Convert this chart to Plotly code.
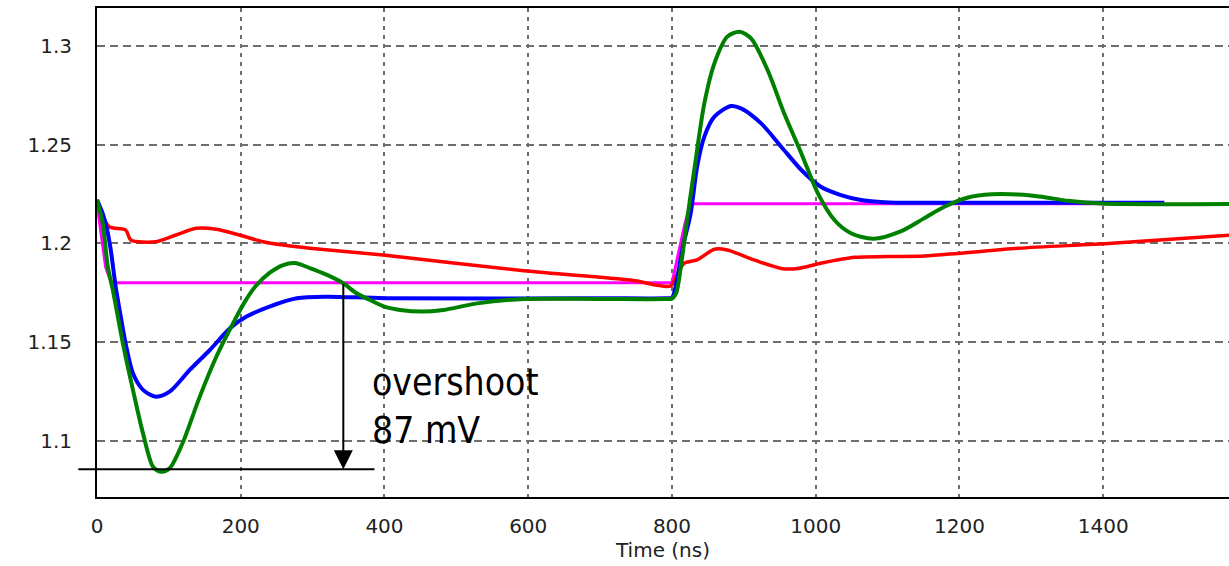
import plotly.graph_objects as go

# ---- data (time in ns, voltage in V) ----
red_t = [0, 5, 17, 40, 47, 82, 110, 138, 166, 198, 231, 259, 296, 398, 594, 742, 798,
         806, 817, 835, 859, 877, 914, 952, 975, 1007, 1054, 1100, 1151, 1198, 1282, 1412, 1578]
red_v = [1.221, 1.216, 1.2084, 1.2067, 1.2017, 1.2008, 1.2042, 1.2076, 1.2071, 1.2042, 1.2008,
         1.1991, 1.1975, 1.1941, 1.1861, 1.1814, 1.1784,
         1.1835, 1.1899, 1.1916, 1.197, 1.1966, 1.1916, 1.1873, 1.1873, 1.1899, 1.1929, 1.1933,
         1.1936, 1.1949, 1.1975, 1.2, 1.2042]

blue_t = [0, 8, 14, 19, 26, 33, 40, 50, 64, 82, 101, 129, 157, 185, 208, 240, 278, 320, 400,
          700, 790, 800, 806, 815, 826, 835, 845, 859, 882, 896, 924, 952, 980, 1007, 1035,
          1063, 1090, 1120, 1485]
blue_v = [1.222, 1.215, 1.207, 1.197, 1.178, 1.163, 1.149, 1.1342, 1.1258, 1.1224, 1.1249,
          1.1359, 1.146, 1.157, 1.1629, 1.168, 1.1722, 1.173, 1.1722,
          1.1722, 1.1722, 1.1725, 1.180, 1.198, 1.2152, 1.2388, 1.254, 1.2641, 1.2695, 1.2683,
          1.2607, 1.2489, 1.2371, 1.2286, 1.2244, 1.2219, 1.2209, 1.2205, 1.2205]

green_t = [0, 8, 15, 22, 36, 50, 64, 78, 89, 101, 119, 143, 166, 190, 205, 220, 240, 259, 275,
           296, 320, 343, 360, 380, 400, 422, 452, 482, 529, 594, 700, 790, 800, 806, 813, 821,
           831, 845, 859, 877, 894, 910, 933, 956, 980, 1003, 1026, 1049, 1080, 1119, 1150,
           1179, 1212, 1245, 1282, 1314, 1351, 1398, 1578]
green_v = [1.222, 1.2101, 1.1882, 1.1764, 1.1494, 1.1258, 1.1038, 1.0869, 1.0844, 1.0861,
           1.0988, 1.1224, 1.1426, 1.1600, 1.170, 1.178, 1.185, 1.189, 1.190, 1.1875, 1.184,
           1.1797, 1.175, 1.1713, 1.168, 1.1663, 1.1655, 1.1663, 1.1696, 1.1718, 1.1718,
           1.1718, 1.172, 1.175, 1.19, 1.2118, 1.2371, 1.2708, 1.2911, 1.3046, 1.3071, 1.3037,
           1.2877, 1.2658, 1.2455, 1.2253, 1.2118, 1.2051, 1.2023, 1.2062, 1.2125, 1.2185,
           1.2232, 1.2248, 1.2247, 1.2236, 1.2215, 1.2201, 1.2199]

magenta_t = [0, 6, 12, 20, 800, 806, 812, 818, 826, 1485]
magenta_v = [1.22, 1.203, 1.188, 1.18, 1.18, 1.19, 1.20, 1.21, 1.22, 1.22]

x_ticks = [0, 200, 400, 600, 800, 1000, 1200, 1400]
x_ticklabels = ["0", "200", "400", "600", "800", "1000", "1200", "1400"]
y_ticks = [1.1, 1.15, 1.2, 1.25, 1.3]
y_ticklabels = ["1.1", "1.15", "1.2", "1.25", "1.3"]

X_RANGE = [0, 1575]
Y_RANGE = [1.0716, 1.3191]

# annotation values
ARROW_X = 342.7
ARROW_FROM = 1.18
OVERSHOOT_LEVEL = 1.0856
LEVEL_LINE_X = [-26, 386]
LABEL_X = 380
LABEL_Y = 1.1172

fig = go.Figure()

def add(t, v, color, width, shape="spline"):
    fig.add_trace(go.Scatter(x=t, y=v, mode="lines",
                             line=dict(color=color, width=width, shape=shape,
                                       smoothing=0.8 if shape == "spline" else None),
                             showlegend=False, hoverinfo="skip"))

add(magenta_t, magenta_v, "#ff00ff", 3, "linear")
add(red_t, red_v, "#ff0000", 3.5)
add(blue_t, blue_v, "#0000ff", 4)
add(green_t, green_v, "#008000", 4)

tickfont = dict(family="DejaVu Sans", size=20, color="#222222")

fig.update_layout(
    width=1229, height=566,
    margin=dict(l=97, r=0, t=8, b=69),
    paper_bgcolor="white", plot_bgcolor="white",
    xaxis=dict(range=X_RANGE, tickvals=x_ticks, ticktext=x_ticklabels, tickfont=tickfont,
               showgrid=True, gridcolor="#6e6e6e", gridwidth=1.5, griddash="4px,5px",
               showline=True, linecolor="black", linewidth=2, mirror=True,
               zeroline=False, ticks="", ticklabelstandoff=10,
               title=dict(text="Time (ns)", font=tickfont, standoff=4)),
    yaxis=dict(range=Y_RANGE, tickvals=y_ticks, ticktext=y_ticklabels, tickfont=tickfont,
               showgrid=True, gridcolor="#6e6e6e", gridwidth=1.5, griddash="8px,5px",
               showline=True, linecolor="black", linewidth=2, mirror=False,
               zeroline=False, ticks="", ticklabelstandoff=19),
)

fig.add_shape(type="line", xref="paper", yref="y",
              x0=LEVEL_LINE_X[0] / X_RANGE[1], x1=LEVEL_LINE_X[1] / X_RANGE[1],
              y0=OVERSHOOT_LEVEL, y1=OVERSHOOT_LEVEL,
              line=dict(color="black", width=2))

fig.add_annotation(x=ARROW_X, y=OVERSHOOT_LEVEL, ax=ARROW_X, ay=ARROW_FROM,
                   xref="x", yref="y", axref="x", ayref="y",
                   text="", showarrow=True, arrowhead=2, arrowsize=1.9,
                   arrowwidth=2, arrowcolor="black")

fig.add_annotation(x=LABEL_X, y=LABEL_Y, xref="x", yref="y", xanchor="left", yanchor="middle",
                   align="left", showarrow=False, text="overshoot<br>87 mV",
                   font=dict(family="DejaVu Sans Condensed, Liberation Sans Narrow, Liberation Sans",
                             size=37, color="black"))

fig.write_html("out.html")
